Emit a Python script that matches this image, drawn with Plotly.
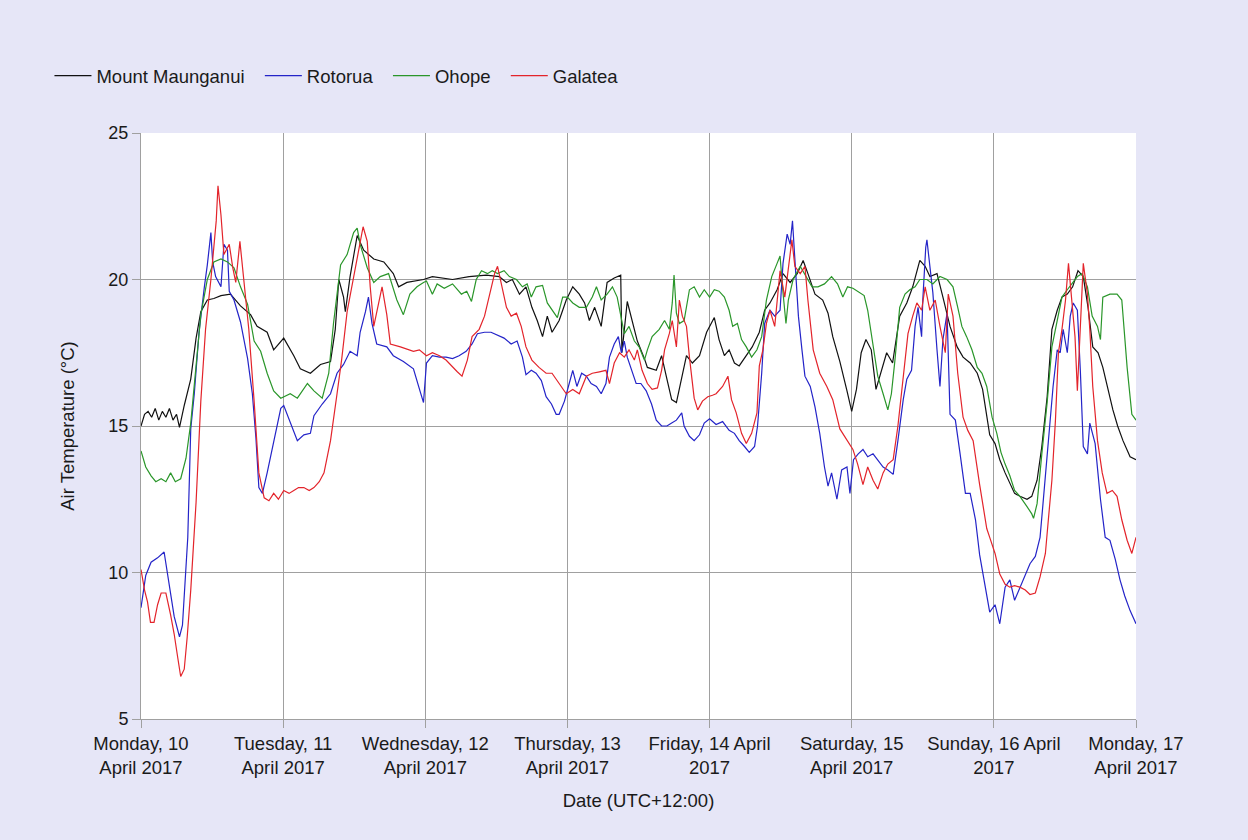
import datetime as dt
import plotly.graph_objects as go

# Hours after 00:00 on Monday 10 April 2017 (UTC+12:00) and air temperature (°C)
start = dt.datetime(2017, 4, 10)

mount_hours = [0, 0.6, 1.2, 1.8, 2.4, 3.0, 3.6, 4.2, 4.8, 5.4, 6.0, 6.5, 7.3, 8.4, 9.3, 10.1, 11.2, 12.3, 13.5, 15.1,
               16.8, 18.5, 19.6, 21.3, 22.4, 24.1, 25.8, 26.9, 28.6, 30.3, 32.0, 32.8, 33.4, 34.2, 34.5, 35.3, 36.5, 37.6,
               39.3, 41.0, 42.6, 43.5, 44.9, 47.7, 49.2, 52.6, 55.4, 58.3, 60.5, 61.7, 62.7, 63.9, 65.0, 66.0, 66.9,
               67.8, 68.6, 69.4, 70.6, 71.8, 72.9, 74.0, 74.9, 75.7, 76.6, 77.7, 78.7, 79.9, 81.0, 81.2, 82.1, 82.8,
               83.8, 85.0, 85.5, 87.0, 87.9, 88.8, 89.6, 90.4, 91.3, 92.1, 93.1, 94.3, 95.5, 96.8, 97.6, 98.5, 99.3,
               100.2, 101.0, 101.9, 103.2, 104.4, 105.3, 106.2, 107.4, 108.4, 109.6, 110.8, 111.8, 112.6, 113.8, 115.1,
               116.0, 116.8, 118.0, 119.2, 120.0, 120.8, 121.6, 122.4, 123.3, 124.1, 125.1, 125.9, 126.9, 128.1, 129.3,
               130.3, 131.5, 132.4, 133.2, 134.4, 135.4, 136.6, 137.8, 138.8, 140.0, 141.2, 142.1, 143.3, 144.2, 145.0,
               145.9, 146.7, 147.5, 148.4, 149.6, 150.4, 151.3, 152.1, 153.0, 153.8, 154.7, 155.5, 156.4, 157.3, 158.2,
               159.1, 159.9, 160.7, 161.6, 162.4, 163.3, 164.1, 164.9, 165.8, 167.0, 168.0]
mount_temp = [15.0, 15.4, 15.5, 15.3, 15.6, 15.2, 15.5, 15.3, 15.6, 15.2, 15.4, 14.95, 15.7, 16.6, 18.0, 18.9, 19.3, 19.35,
              19.45, 19.5, 19.1, 18.8, 18.4, 18.2, 17.6, 18.0, 17.4, 16.95, 16.8, 17.1, 17.2, 18.3, 20.0, 19.4, 18.9, 20.1,
              21.5, 21.0, 20.7, 20.6, 20.2, 19.75, 19.9, 20.0, 20.1, 20.0, 20.1, 20.15, 20.1, 19.9, 20.0, 19.5, 19.75,
              19.05, 18.6, 18.05, 18.75, 18.2, 18.6, 19.3, 19.75, 19.5, 19.2, 18.6, 19.05, 18.4, 19.9, 20.05, 20.15, 17.5,
              19.25, 18.7, 17.9, 17.3, 17.0, 16.9, 17.4, 16.6, 15.9, 15.8, 16.6, 17.4, 17.15, 17.4, 18.2, 18.7, 17.95,
              17.4, 17.6, 17.15, 17.05, 17.3, 17.7, 18.2, 18.95, 19.2, 19.65, 20.2, 19.9, 20.2, 20.65, 20.2, 19.5, 19.3,
              18.85, 18.05, 17.2, 16.2, 15.5, 16.25, 17.5, 17.95, 17.6, 16.25, 16.9, 17.5, 17.15, 18.75, 19.2, 19.75,
              20.65, 20.45, 20.1, 20.2, 19.4, 18.4, 17.7, 17.35, 17.15, 16.8, 16.25, 14.7, 14.4, 13.85, 13.4, 13.05,
              12.7, 12.6, 12.5, 12.6, 13.15, 14.3, 16.0, 18.3, 18.95, 19.4, 19.5, 19.75, 20.3, 20.1, 19.05, 17.7, 17.5,
              17.0, 16.25, 15.55, 15.0, 14.5, 13.95, 13.85]

rotorua_hours = [0, 0.8, 1.7, 2.8, 3.9, 4.8, 5.6, 6.5, 7.0, 7.9, 8.4, 9.0, 9.8, 10.7, 11.2, 11.8, 12.1, 12.6, 13.5, 14.0,
                 14.6, 14.9, 15.7, 16.8, 18.0, 18.8, 19.4, 19.9, 20.5, 21.3, 22.4, 23.6, 24.1, 25.2, 26.4, 27.5, 28.6,
                 29.2, 30.6, 32.0, 33.1, 34.2, 35.3, 36.5, 37.0, 37.9, 38.4, 39.0, 39.8, 41.5, 42.6, 44.3, 46.0, 47.1,
                 47.7, 48.2, 49.2, 50.4, 51.5, 52.6, 53.7, 54.9, 55.9, 56.8, 58.0, 59.1, 60.2, 61.3, 62.5, 63.5, 64.4,
                 65.0, 65.9, 66.7, 67.6, 68.4, 69.3, 70.1, 70.6, 71.5, 72.3, 72.9, 73.6, 74.4, 75.2, 76.0, 76.9, 77.7,
                 78.5, 79.1, 79.9, 80.6, 81.1, 81.6, 82.1, 82.8, 83.6, 84.4, 85.3, 86.2, 87.0, 87.9, 88.8, 89.6, 90.4,
                 91.3, 91.7, 92.6, 93.4, 94.3, 95.1, 96.0, 97.1, 98.2, 99.3, 100.2, 101.0, 101.9, 102.7, 103.6, 104.1,
                 104.8, 105.3, 106.2, 107.0, 107.9, 108.4, 109.1, 109.6, 110.0, 110.4, 111.0, 111.6, 112.1, 113.0, 113.8,
                 114.6, 115.4, 116.0, 116.6, 117.5, 118.3, 119.2, 119.7, 120.3, 121.1, 121.9, 122.7, 123.6, 124.4, 125.3,
                 126.1, 127.0, 127.8, 128.7, 129.3, 130.1, 130.7, 131.2, 131.8, 132.0, 132.5, 132.7, 133.2, 133.7, 134.4,
                 134.9, 135.4, 136.1, 136.6, 137.5, 138.3, 139.2, 140.0, 140.9, 141.6, 142.5, 143.3, 144.2, 145.0, 145.9,
                 146.7, 147.5, 148.4, 149.3, 150.1, 151.0, 151.8, 152.3, 153.0, 153.5, 154.0, 154.7, 155.2, 155.7, 156.4,
                 156.9, 157.4, 158.1, 158.6, 159.1, 159.8, 160.2, 161.1, 162.0, 162.8, 163.6, 164.5, 165.3, 166.1, 167.0,
                 168.0]
rotorua_temp = [8.8, 9.9, 10.35, 10.5, 10.7, 9.5, 8.5, 7.8, 8.2, 11.2, 14.9, 16.1, 18.2, 19.75, 20.5, 21.6, 20.6, 20.1,
                19.75, 21.2, 21.0, 19.6, 19.3, 18.55, 17.3, 16.1, 14.6, 12.9, 12.7, 13.4, 14.5, 15.6, 15.7, 15.1, 14.5,
                14.7, 14.75, 15.35, 15.75, 16.1, 16.8, 17.1, 17.55, 17.4, 18.2, 18.9, 19.4, 18.5, 17.8, 17.7, 17.4, 17.2,
                16.95, 16.2, 15.8, 17.15, 17.4, 17.35, 17.35, 17.3, 17.4, 17.55, 17.8, 18.15, 18.2, 18.2, 18.1, 18.0,
                17.8, 17.9, 17.35, 16.75, 16.9, 16.8, 16.55, 16.0, 15.75, 15.4, 15.4, 15.85, 16.45, 16.9, 16.35, 16.8,
                16.7, 16.45, 16.35, 16.1, 16.45, 17.35, 17.8, 18.05, 17.5, 17.9, 17.35, 16.9, 16.45, 16.45, 16.2, 15.75,
                15.2, 15.0, 15.0, 15.1, 15.2, 15.45, 15.0, 14.65, 14.5, 14.7, 15.1, 15.25, 15.05, 15.15, 14.85, 14.75,
                14.5, 14.3, 14.1, 14.3, 15.0, 16.8, 18.5, 18.95, 18.75, 18.95, 20.55, 21.55, 21.2, 22.0, 20.8, 18.75,
                17.6, 16.7, 16.35, 15.65, 14.75, 13.6, 12.95, 13.4, 12.5, 13.5, 13.6, 12.7, 13.85, 14.05, 14.2, 13.95,
                14.05, 13.85, 13.6, 13.5, 13.35, 14.5, 15.9, 16.6, 16.9, 18.4, 19.05, 18.05, 19.3, 21.1, 21.35, 20.45,
                19.55, 17.6, 16.35, 17.95, 18.85, 15.4, 15.2, 14.05, 12.7, 12.7, 11.8, 10.6, 9.5, 8.65, 8.9, 8.25, 9.5,
                9.75, 9.05, 9.5, 9.95, 10.3, 10.55, 11.2, 12.35, 14.05, 15.2, 16.35, 17.6, 17.5, 18.3, 17.5, 18.75, 19.2,
                18.95, 16.9, 14.3, 14.05, 15.1, 14.4, 12.5, 11.2, 11.1, 10.45, 9.75, 9.2, 8.7, 8.25]

ohope_hours = [0, 0.8, 1.7, 2.5, 3.4, 4.2, 5.0, 5.8, 6.7, 7.6, 8.4, 9.3, 10.1, 11.2, 12.3, 13.5, 14.6, 15.7, 16.8, 18.0,
               19.1, 20.2, 21.3, 22.4, 23.6, 25.2, 26.4, 28.1, 29.2, 30.6, 31.7, 32.5, 33.7, 34.8, 35.9, 36.5, 37.0, 38.2,
               39.3, 40.4, 41.8, 43.2, 44.3, 45.4, 46.6, 47.7, 48.2, 49.2, 50.0, 51.2, 52.6, 54.1, 55.0, 55.8, 56.6, 57.5,
               58.5, 59.3, 60.2, 61.3, 62.2, 63.4, 64.4, 65.2, 65.9, 66.7, 67.8, 68.6, 69.4, 70.3, 71.2, 72.0, 72.9, 74.0,
               75.2, 76.2, 76.9, 77.7, 78.7, 79.6, 80.4, 81.1, 81.6, 82.4, 83.3, 84.1, 85.0, 85.5, 86.3, 87.5, 88.4, 89.2,
               89.7, 90.0, 90.4, 90.9, 91.7, 92.6, 93.4, 94.3, 95.1, 96.0, 96.8, 97.6, 98.5, 99.3, 99.9, 100.7, 101.4,
               102.2, 103.1, 104.0, 104.8, 105.6, 106.5, 107.4, 107.9, 108.4, 108.9, 109.3, 110.1, 111.3, 112.5, 113.3,
               114.3, 115.4, 116.6, 117.6, 118.5, 119.3, 120.2, 121.0, 122.1, 122.7, 123.3, 123.9, 124.4, 125.3, 126.1,
               126.7, 127.3, 128.1, 129.0, 129.8, 130.7, 131.5, 132.7, 133.7, 134.9, 136.1, 137.1, 137.9, 138.6, 139.4,
               140.3, 141.2, 142.0, 142.8, 143.7, 144.5, 145.2, 145.9, 146.7, 147.5, 148.4, 149.6, 150.4, 150.7, 151.3,
               152.1, 153.0, 153.8, 154.7, 155.5, 156.4, 157.2, 158.1, 158.9, 159.8, 160.6, 161.5, 162.0, 162.4, 163.6,
               164.8, 165.6, 166.5, 167.3, 168.0]
ohope_temp = [14.15, 13.6, 13.3, 13.1, 13.2, 13.1, 13.4, 13.1, 13.2, 13.9, 15.1, 17.1, 18.8, 20.0, 20.6, 20.7, 20.6, 20.4,
              19.75, 19.15, 17.9, 17.55, 16.8, 16.2, 15.95, 16.1, 15.95, 16.45, 16.2, 15.95, 16.8, 18.5, 20.5, 20.85, 21.6,
              21.75, 21.2, 20.4, 19.9, 20.1, 20.2, 19.3, 18.8, 19.5, 19.75, 19.9, 19.95, 19.5, 19.85, 19.7, 19.85, 19.5,
              19.6, 19.25, 20.0, 20.3, 20.2, 20.3, 20.2, 20.3, 20.1, 20.0, 19.75, 19.85, 19.4, 19.75, 19.8, 19.2, 18.95,
              18.7, 19.4, 19.4, 19.2, 19.05, 19.05, 19.4, 19.75, 19.3, 19.5, 19.75, 19.4, 18.7, 18.15, 18.4, 17.9, 17.7,
              17.25, 17.6, 18.05, 18.3, 18.6, 18.3, 19.2, 20.15, 18.85, 18.5, 18.6, 19.65, 19.75, 19.4, 19.65, 19.4,
              19.65, 19.6, 19.4, 18.95, 18.4, 18.5, 17.95, 17.7, 17.35, 17.6, 18.05, 19.3, 20.1, 20.55, 20.8, 19.55,
              18.5, 19.3, 20.0, 20.45, 20.0, 19.75, 19.75, 19.85, 20.1, 19.85, 19.4, 19.75, 19.7, 19.6, 19.45, 18.95,
              18.15, 17.25, 16.7, 16.1, 15.55, 16.1, 17.25, 19.05, 19.5, 19.65, 19.75, 20.0, 20.0, 19.85, 20.1, 20.0,
              19.75, 19.05, 18.4, 18.05, 17.6, 17.0, 16.8, 16.35, 15.3, 14.75, 14.1, 13.7, 13.3, 12.8, 12.6, 12.25, 12.0,
              11.85, 12.35, 14.05, 15.8, 17.7, 18.6, 19.4, 19.65, 19.85, 20.1, 20.2, 19.75, 18.75, 18.4, 17.95, 19.4,
              19.5, 19.5, 19.3, 17.0, 15.4, 15.2]

galatea_hours = [0, 0.6, 1.1, 1.6, 2.2, 2.8, 3.4, 4.2, 5.0, 5.6, 6.2, 6.7, 7.3, 7.8, 8.4, 9.3, 10.1, 10.9, 11.8, 12.3,
                 12.7, 13.0, 13.5, 14.0, 14.9, 15.5, 16.0, 16.7, 17.4, 18.2, 19.1, 19.9, 20.8, 21.6, 22.4, 23.2, 24.1,
                 25.0, 25.8, 26.6, 27.5, 28.4, 29.2, 30.1, 30.9, 32.0, 33.1, 33.9, 34.8, 35.9, 36.7, 37.5, 38.2, 38.7,
                 39.3, 40.1, 40.7, 41.5, 42.1, 43.8, 46.0, 47.0, 48.2, 49.2, 50.4, 51.5, 52.6, 53.4, 54.2, 55.1, 55.9,
                 57.1, 58.0, 58.8, 59.7, 60.2, 60.8, 61.7, 62.5, 63.4, 64.2, 65.0, 66.0, 67.2, 68.4, 69.4, 70.6, 71.8,
                 72.9, 74.0, 75.2, 76.2, 77.4, 78.5, 79.1, 79.9, 80.8, 81.6, 82.4, 83.3, 83.8, 84.6, 85.5, 86.3, 87.2,
                 87.9, 88.4, 89.2, 89.7, 90.4, 90.9, 91.4, 92.1, 92.6, 93.4, 94.0, 94.8, 95.7, 96.5, 97.1, 98.2, 99.1,
                 99.7, 100.5, 101.4, 102.2, 103.1, 104.0, 104.4, 105.0, 105.6, 106.2, 107.0, 107.9, 108.7, 109.3, 109.9,
                 110.4, 111.3, 112.1, 112.6, 113.5, 114.6, 115.8, 116.8, 118.0, 119.2, 120.2, 121.0, 121.9, 122.7, 123.6,
                 124.4, 125.3, 126.1, 127.0, 127.8, 128.7, 129.5, 130.3, 131.0, 131.8, 132.4, 133.2, 134.1, 134.9, 135.8,
                 136.3, 137.1, 137.9, 138.8, 139.6, 140.5, 141.6, 142.8, 143.3, 144.2, 145.0, 145.9, 146.7, 147.5, 148.4,
                 149.3, 150.1, 151.0, 151.8, 152.7, 153.2, 153.8, 154.4, 154.9, 155.5, 156.1, 156.6, 157.2, 157.7, 158.1,
                 158.6, 159.1, 159.8, 160.2, 160.7, 161.5, 162.3, 163.1, 164.0, 164.8, 165.6, 166.5, 167.3, 168.0]
galatea_temp = [10.1, 9.4, 9.0, 8.3, 8.3, 8.9, 9.3, 9.3, 8.55, 7.9, 7.1, 6.45, 6.7, 7.8, 9.4, 12.4, 15.85, 18.3, 20.0,
                21.0, 22.0, 23.2, 22.2, 20.85, 21.2, 20.4, 19.9, 21.3, 20.0, 18.3, 15.85, 13.4, 12.55, 12.45, 12.7, 12.5,
                12.8, 12.7, 12.8, 12.9, 12.9, 12.8, 12.9, 13.1, 13.4, 14.5, 16.1, 17.3, 18.9, 20.1, 21.0, 21.8, 21.3,
                19.75, 18.4, 19.15, 19.75, 18.8, 17.8, 17.7, 17.55, 17.6, 17.4, 17.5, 17.4, 17.25, 17.0, 16.85, 16.7,
                17.25, 18.05, 18.3, 18.75, 19.4, 20.2, 20.45, 19.85, 19.05, 18.75, 18.85, 18.4, 17.7, 17.25, 17.0, 16.8,
                16.8, 16.45, 16.1, 16.25, 16.1, 16.7, 16.8, 16.85, 16.9, 16.45, 17.15, 17.5, 17.35, 17.6, 17.25, 17.6,
                16.9, 16.45, 16.25, 16.3, 16.9, 17.6, 18.15, 18.6, 17.7, 19.3, 18.75, 18.4, 17.35, 15.95, 15.55, 15.85,
                16.0, 16.05, 16.1, 16.35, 16.7, 15.9, 15.45, 14.75, 14.4, 14.75, 15.45, 17.05, 17.6, 18.5, 18.95, 18.4,
                20.3, 19.4, 20.45, 21.35, 20.45, 20.2, 20.45, 19.3, 17.6, 16.8, 16.35, 15.9, 14.9, 14.5, 14.2, 13.7, 13.0,
                13.6, 13.15, 12.85, 13.4, 13.7, 13.85, 15.0, 16.6, 18.15, 18.75, 19.2, 18.95, 19.75, 18.95, 19.3, 18.4,
                17.5, 19.5, 18.75, 16.8, 15.3, 14.85, 14.5, 13.0, 11.5, 11.2, 10.65, 9.95, 9.6, 9.5, 9.55, 9.5, 9.4, 9.25,
                9.3, 9.85, 10.65, 11.8, 13.15, 15.2, 17.5, 18.3, 19.3, 20.55, 19.3, 18.05, 16.2, 18.3, 20.55, 19.5, 18.3,
                16.35, 14.5, 13.4, 12.7, 12.8, 12.6, 11.8, 11.1, 10.65, 11.2]

series = [
    ("Mount Maunganui", mount_hours, mount_temp, "#111111"),
    ("Rotorua", rotorua_hours, rotorua_temp, "#2424c8"),
    ("Ohope", ohope_hours, ohope_temp, "#2a962a"),
    ("Galatea", galatea_hours, galatea_temp, "#e3242b"),
]

day_ticks = [start + dt.timedelta(days=d) for d in range(8)]
day_labels = ["Monday, 10<br>April 2017", "Tuesday, 11<br>April 2017", "Wednesday, 12<br>April 2017",
              "Thursday, 13<br>April 2017", "Friday, 14 April<br>2017", "Saturday, 15<br>April 2017",
              "Sunday, 16 April<br>2017", "Monday, 17<br>April 2017"]
temp_ticks = [5, 10, 15, 20, 25]

# extra spacing after each legend entry
legend_pad = "\u00a0\u00a0"

fig = go.Figure()
for name, hours, temps, color in series:
    fig.add_trace(go.Scatter(
        x=[start + dt.timedelta(hours=h) for h in hours],
        y=temps,
        mode="lines",
        name=name + legend_pad,
        line=dict(color=color, width=1.2),
    ))

grid = "#a0a0a0"
fig.update_layout(
    width=1248,
    height=840,
    margin=dict(l=141, r=112, t=133, b=121),
    paper_bgcolor="#e6e6f7",
    plot_bgcolor="#ffffff",
    font=dict(family="Liberation Sans, Arial, sans-serif", size=18, color="#1a1a1a"),
    legend=dict(
        orientation="h",
        x=-0.092, xanchor="left",
        y=1.097, yanchor="middle",
        bgcolor="rgba(0,0,0,0)",
        font=dict(size=18.5),
        itemwidth=37,
    ),
    xaxis=dict(
        range=[day_ticks[0], day_ticks[-1]],
        tickvals=day_ticks,
        ticktext=day_labels,
        tickfont=dict(size=18.5),
        showgrid=True, gridcolor=grid, gridwidth=1,
        showline=True, linecolor=grid, linewidth=1,
        ticks="outside", ticklen=8, tickcolor=grid,
        title=dict(text="Date (UTC+12:00)", standoff=16, font=dict(size=18.5)),
        zeroline=False,
    ),
    yaxis=dict(
        range=[5, 25],
        tickvals=temp_ticks,
        tickfont=dict(size=18),
        showgrid=True, gridcolor=grid, gridwidth=1,
        showline=True, linecolor=grid, linewidth=1,
        ticks="outside", ticklen=8, tickcolor=grid,
        title=dict(text="Air Temperature (°C)", standoff=28, font=dict(size=18.5)),
        zeroline=False,
    ),
)

fig.write_html("out.html")
